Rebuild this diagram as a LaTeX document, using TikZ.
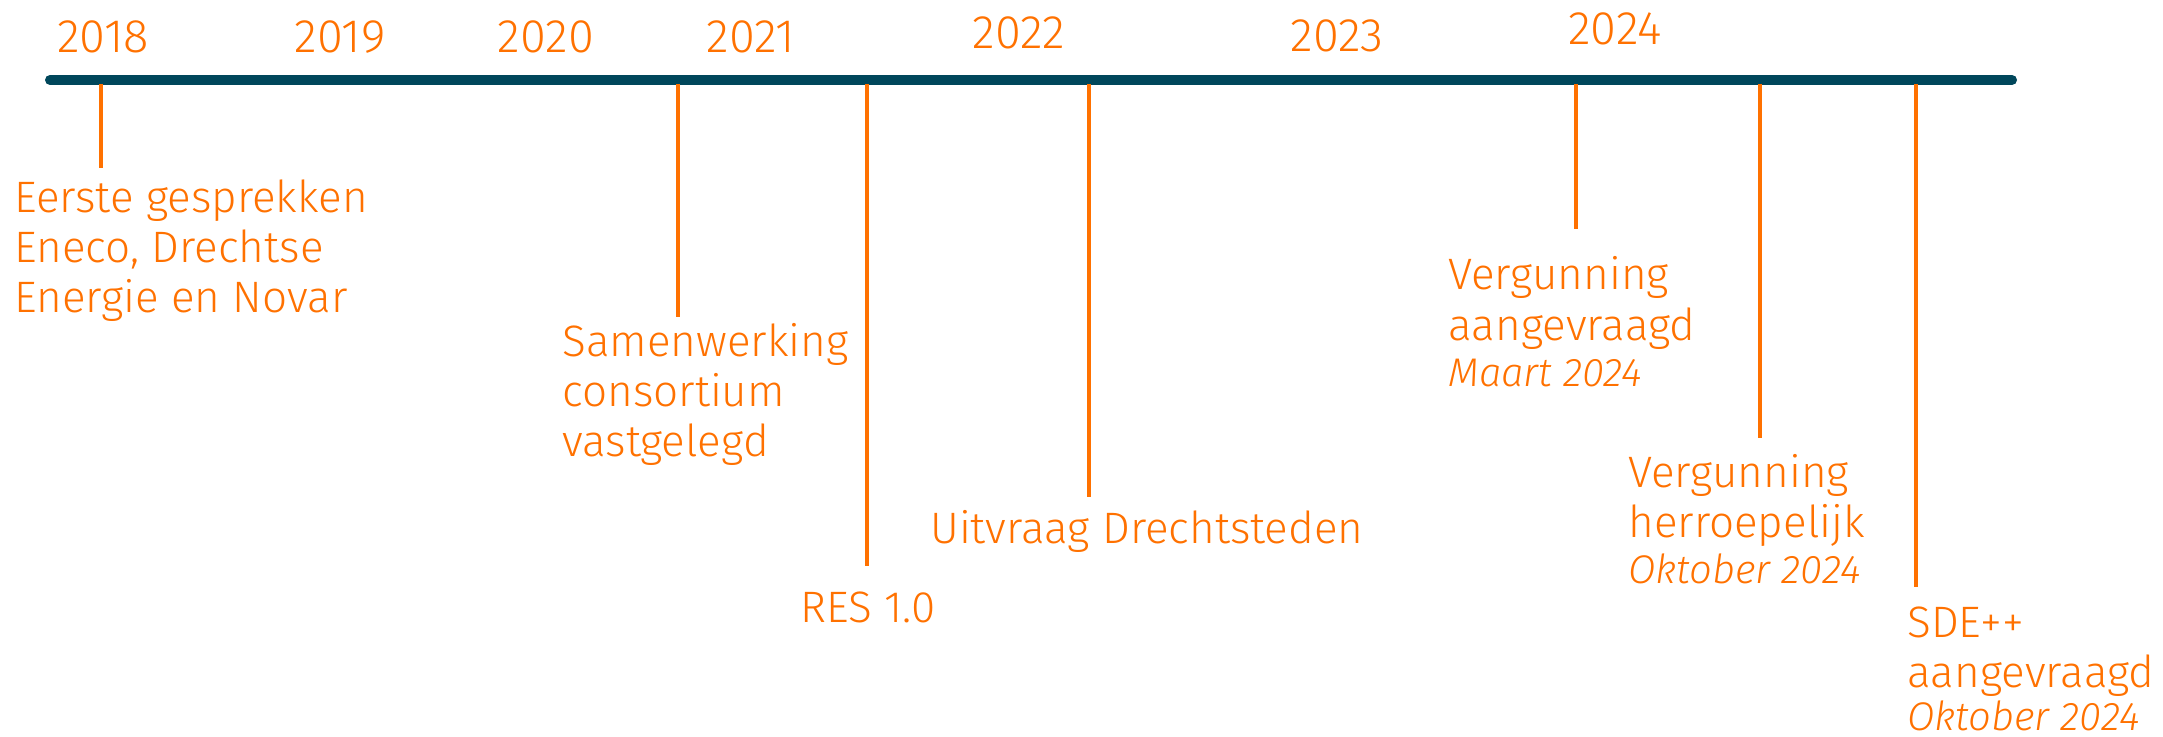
\documentclass[tikz,border=0pt]{standalone}
\usepackage{fontspec}
\setmainfont{Fira Sans}[UprightFont=* Light, ItalicFont=* Light Italic]
\usetikzlibrary{positioning}
\definecolor{lineteal}{HTML}{00475B}
\definecolor{mileorange}{HTML}{FF7100}
\newcommand{\datumfont}{\fontsize{20}{22}\selectfont\itshape}

\begin{document}
\begin{tikzpicture}[x=0.5pt, y=-0.5pt,
    every node/.style={inner sep=0pt, text=mileorange, font=\fontsize{22}{25}\selectfont},
    yearlbl/.style={anchor=base, font=\fontsize{23.5}{25}\selectfont},
    eventlbl/.style={anchor=base west, align=left},
    tick/.style={draw=mileorange, line width=2pt}]
    \useasboundingbox (0,0) rectangle (2163,737);

    % Years
    \node (y2018) [yearlbl] at (103,53) {2018};
    \node (y2019) [yearlbl] at (340,53) {2019};
    \node (y2020) [yearlbl] at (546,53) {2020};
    \node (y2021) [yearlbl] at (751,53) {2021};
    \node (y2022) [yearlbl] at (1019,49) {2022};
    \node (y2023) [yearlbl] at (1337,52) {2023};
    \node (y2024) [yearlbl] at (1615,45) {2024};

    % Time line
    \coordinate (start) at (50,80);
    \coordinate (stop) at (2012,80);
    \draw[lineteal, line width=5pt, line cap=round] (start) -- (stop);

    % Milestones (anchored at the baseline of the last line)
    \node (gesprek) [eventlbl] at (14,313) {Eerste gesprekken\\Eneco, Drechtse\\Energie en Novar};
    \node (consort) [eventlbl] at (562,457) {Samenwerking\\consortium\\vastgelegd};
    \node (res) [eventlbl] at (800,622) {RES 1.0};
    \node (uitvraag) [eventlbl] at (930,543) {Uitvraag Drechtsteden};
    \node (aanvraag) [eventlbl] at (1448,387) {Vergunning\\aangevraagd\\[-1.5pt]{\datumfont Maart 2024}};
    \node (herroep) [eventlbl] at (1628,583) {Vergunning\\herroepelijk\\[-2pt]{\datumfont Oktober 2024}};
    \node (sde) [eventlbl] at (1907,730) {SDE++\\aangevraagd\\[-3.5pt]{\datumfont Oktober 2024}};

    % Ticks
    \foreach \name/\x/\y in {gesprek/101/168, consort/678/317, res/867/566, uitvraag/1089/497,
                             aanvraag/1576/229, herroep/1760/438, sde/1916/587} {
        \coordinate (\name top) at (\x,84);
        \coordinate (\name end) at (\x,\y);
        \draw[tick] (\name top) -- (\name end);
    }
\end{tikzpicture}
\end{document}
